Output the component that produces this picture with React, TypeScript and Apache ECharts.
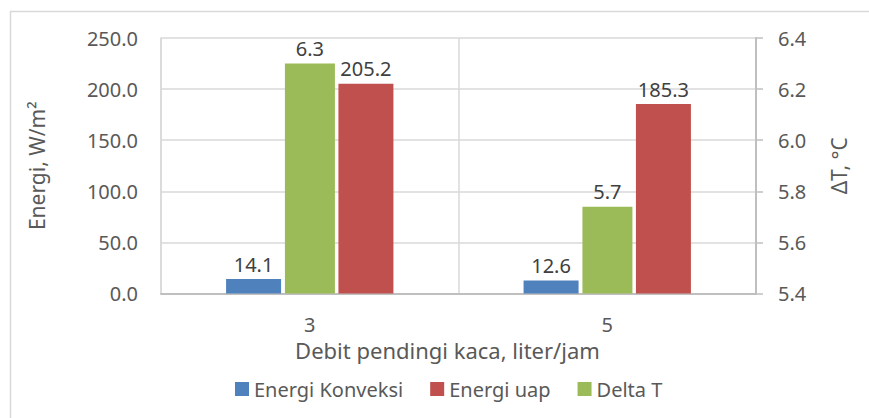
import React, { useEffect, useRef } from "react";
import * as echarts from "echarts";

const categories = ["3", "5"];
const energiKonveksi = [14.1, 12.6];
const energiUap = [205.2, 185.3];
const deltaT = [6.3, 5.74];
const leftTicks = { min: 0, max: 250, interval: 50 };
const rightTicks = { min: 5.4, max: 6.4, interval: 0.2 };

const FONT = "Noto Sans";
const TXT = "#595959";
const LBL = "#404040";

export default function App() {
  const ref = useRef<HTMLDivElement>(null);
  useEffect(() => {
    const chart = echarts.init(ref.current!, null, { renderer: "svg" });
    const labelCfg = (dec: number) => ({
      show: true,
      position: "top",
      distance: 5,
      color: LBL,
      fontFamily: FONT,
      fontSize: 20,
      formatter: (p: any) => Number(p.value).toFixed(dec),
    });
    chart.setOption({
      animation: false,
      backgroundColor: "#ffffff",
      textStyle: { fontFamily: FONT },
      graphic: [
        {
          type: "rect",
          shape: { x: 10.5, y: 11.5, width: 900, height: 450 },
          style: { fill: "none", stroke: "#d9d9d9", lineWidth: 1.5 },
          silent: true,
          z: -10,
        },
      ],
      grid: { left: 161, right: 113, top: 38, bottom: 124.5, containLabel: false },
      legend: {
        left: 230,
        top: 374,
        itemWidth: 14,
        itemHeight: 14,
        itemGap: 27,
        icon: "rect",
        textStyle: { color: TXT, fontFamily: FONT, fontSize: 20, padding: [0, 0, 0, 0] },
        data: ["Energi Konveksi", "Energi uap", "Delta T"],
      },
      xAxis: {
        type: "category",
        data: categories,
        axisLine: { show: true, lineStyle: { color: "#bfbfbf", width: 2 } },
        axisTick: { show: false },
        splitLine: { show: true, lineStyle: { color: "#d9d9d9", width: 1.5 } },
        axisLabel: { color: TXT, fontFamily: FONT, fontSize: 20, margin: 21 },
        name: "Debit pendingi kaca, liter/jam",
        nameLocation: "middle",
        nameGap: 44,
        nameTextStyle: { color: TXT, fontFamily: FONT, fontSize: 22, padding: [0, 22, 0, 0] },
      },
      yAxis: [
        {
          type: "value",
          ...leftTicks,
          axisLine: { show: true, lineStyle: { color: "#d9d9d9", width: 1.5 } },
          axisTick: { show: false },
          splitLine: { show: true, lineStyle: { color: "#d9d9d9", width: 1.5 } },
          axisLabel: {
            color: TXT,
            fontFamily: FONT,
            fontSize: 20,
            margin: 23,
            formatter: (v: number) => v.toFixed(1),
          },
          name: "Energi, W/m²",
          nameLocation: "middle",
          nameGap: 114,
          nameRotate: 90,
          nameTextStyle: { color: TXT, fontFamily: FONT, fontSize: 21 },
        },
        {
          type: "value",
          ...rightTicks,
          position: "right",
          axisLine: { show: true, lineStyle: { color: "#bfbfbf", width: 2 } },
          axisTick: { show: true, length: 7, lineStyle: { color: "#bfbfbf", width: 1.5 } },
          splitLine: { show: false },
          axisLabel: {
            color: TXT,
            fontFamily: FONT,
            fontSize: 20,
            margin: 22,
            formatter: (v: number) => v.toFixed(1),
          },
          name: "ΔT, °C",
          nameLocation: "middle",
          nameGap: 72,
          nameRotate: 90,
          nameTextStyle: { color: TXT, fontFamily: FONT, fontSize: 21 },
        },
      ],
      series: [
        {
          name: "Energi Konveksi",
          type: "bar",
          yAxisIndex: 0,
          data: energiKonveksi,
          barWidth: 55,
          barGap: "7%",
          itemStyle: { color: "#4F81BD" },
          label: labelCfg(1),
        },
        {
          name: "Delta T",
          type: "bar",
          yAxisIndex: 1,
          data: deltaT,
          barWidth: 50,
          barGap: "7%",
          itemStyle: { color: "#9BBB59" },
          label: labelCfg(1),
        },
        {
          name: "Energi uap",
          type: "bar",
          yAxisIndex: 0,
          data: energiUap,
          barWidth: 55,
          barGap: "7%",
          itemStyle: { color: "#C0504D" },
          label: labelCfg(1),
        },
      ],
    });
    return () => chart.dispose();
  }, []);
  return (
    <div
      ref={ref}
      style={{ position: "fixed", left: 0, top: 0, width: 869, height: 418 }}
    />
  );
}
